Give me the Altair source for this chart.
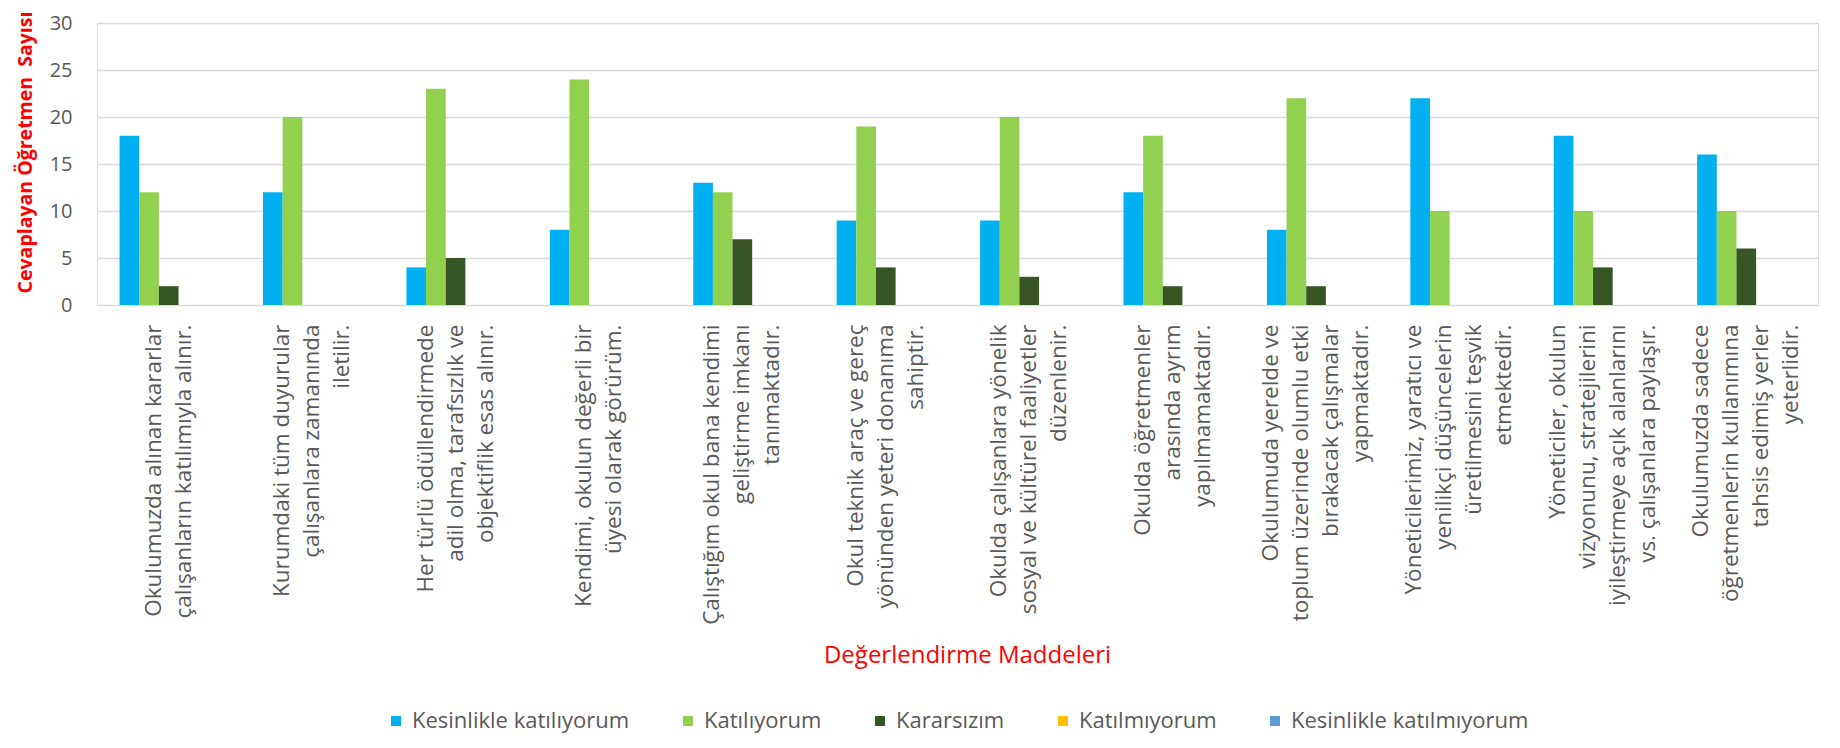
import altair as alt
import pandas as pd

# ---- data -------------------------------------------------------------
series = ["Kesinlikle katılıyorum", "Katılıyorum", "Kararsızım",
          "Katılmıyorum", "Kesinlikle katılmıyorum"]
colors = ["#00B0F0", "#92D050", "#375623", "#FFC000", "#5B9BD5"]

label_lines = [
    ["Okulumuzda alınan kararlar", "çalışanların katılımıyla alınır."],
    ["Kurumdaki tüm duyurular", "çalışanlara zamanında", "iletilir."],
    ["Her türlü ödüllendirmede", "adil olma, tarafsızlık ve", "objektiflik esas alınır."],
    ["Kendimi, okulun değerli bir", "üyesi olarak görürüm."],
    ["Çalıştığım okul bana kendimi", "geliştirme imkanı", "tanımaktadır."],
    ["Okul teknik araç ve gereç", "yönünden yeteri donanıma", "sahiptir."],
    ["Okulda çalışanlara yönelik", "sosyal ve kültürel faaliyetler", "düzenlenir."],
    ["Okulda öğretmenler", "arasında ayrım", "yapılmamaktadır."],
    ["Okulumuda yerelde ve", "toplum üzerinde olumlu etki", "bırakacak çalışmalar", "yapmaktadır."],
    ["Yöneticilerimiz, yaratıcı ve", "yenilikçi düşüncelerin", "üretilmesini teşvik", "etmektedir."],
    ["Yöneticiler, okulun", "vizyonunu, stratejilerini", "iyileştirmeye açık alanlarını", "vs. çalışanlara paylaşır."],
    ["Okulumuzda sadece", "öğretmenlerin kullanımına", "tahsis edimiş yerler", "yeterlidir."],
]

kesinlikle_katiliyorum = [18, 12, 4, 8, 13, 9, 9, 12, 8, 22, 18, 16]
katiliyorum = [12, 20, 23, 24, 12, 19, 20, 18, 22, 10, 10, 10]
kararsizim = [2, 0, 5, 0, 7, 4, 3, 2, 2, 0, 4, 6]
katilmiyorum = [0, 0, 0, 0, 0, 0, 0, 0, 0, 0, 0, 0]
kesinlikle_katilmiyorum = [0, 0, 0, 0, 0, 0, 0, 0, 0, 0, 0, 0]

y_ticks = [0, 5, 10, 15, 20, 25, 30]

# ---- centre the lines of each rotated label (Excel style) -------------
LABEL_SIZE = 22.5
LINE_H = 30
ADV = {' ': 532, '\u00a0': 532, '.': 545, ',': 502,
       'a': 1139, 'b': 1255, 'c': 975, 'd': 1255, 'e': 1149, 'f': 694,
       'g': 1122, 'h': 1257, 'i': 518, 'j': 518, 'k': 1075, 'l': 518,
       'm': 1905, 'n': 1257, 'o': 1237, 'p': 1255, 'q': 1255, 'r': 836,
       's': 977, 't': 723, 'u': 1257, 'v': 1026, 'w': 1593, 'x': 1073,
       'y': 1028, 'z': 977, 'ı': 518, 'ğ': 1122, 'ş': 977, 'ç': 975,
       'ö': 1237, 'ü': 1257, 'O': 1599, 'K': 1155, 'H': 1511, 'Ç': 1296,
       'Y': 1087}


def text_width(s):
    return sum(ADV.get(ch, 1100) for ch in s) / 2048 * LABEL_SIZE


space_w = 532 / 2048 * LABEL_SIZE
keys = []
for lines in label_lines:
    widths = [text_width(l) for l in lines]
    mx = max(widths)
    padded = [l + "\u00a0" * int(round((mx - w) / 2 / space_w)) for l, w in zip(lines, widths)]
    keys.append("|".join(padded))

values_by_series = [kesinlikle_katiliyorum, katiliyorum, kararsizim,
                    katilmiyorum, kesinlikle_katilmiyorum]
rows = []
for s, vals in zip(series, values_by_series):
    for k, v in zip(keys, vals):
        rows.append({"madde": k, "cevap": s, "sayi": v})
df = pd.DataFrame(rows)

FONT = "Open Sans"
GREY = "#595959"

# shift each multi-line label so that its block of lines is centred on the category
n_lines = "length(split(datum.value, '|'))"
label_offset = {
    "condition": [
        {"test": f"{n_lines} == 4", "value": -1.5 * LINE_H},
        {"test": f"{n_lines} == 3", "value": -1.0 * LINE_H},
    ],
    "value": -0.5 * LINE_H,
}

chart = alt.Chart(df).mark_bar().encode(
    x=alt.X(
        "madde:N", sort=keys,
        scale=alt.Scale(paddingInner=0.315, paddingOuter=0.1575),
        axis=alt.Axis(
            title="Değerlendirme Maddeleri", titleColor="#FF0000",
            titleFont=FONT, titleFontSize=24, titleFontWeight="normal",
            titleX=870, titleY=350, titleBaseline="middle",
            labelExpr="split(datum.label, '|')",
            labelAngle=270, labelAlign="right", labelBaseline="middle",
            labelPadding=19, labelOffset=label_offset,
            labelFont=FONT, labelFontSize=LABEL_SIZE,
            labelColor=GREY, labelLineHeight=LINE_H, labelLimit=800,
            labelOverlap=False, ticks=False, domain=False, grid=False,
        ),
    ),
    xOffset=alt.XOffset("cevap:N", sort=series, scale=alt.Scale(domain=series)),
    y=alt.Y(
        "sayi:Q",
        scale=alt.Scale(domain=[0, 30], nice=False),
        axis=alt.Axis(
            values=y_ticks,
            title="Cevaplayan Öğretmen \u00a0Sayısı", titleColor="#FF0000",
            titleFont=FONT, titleFontSize=19.5, titleFontWeight="bold",
            titleX=-62, titleY=129,
            labelFont=FONT, labelFontSize=20, labelColor=GREY,
            labelPadding=25, ticks=False, domain=False,
            grid=True, gridColor="#D9D9D9", gridWidth=1.5,
        ),
    ),
    color=alt.Color(
        "cevap:N",
        scale=alt.Scale(domain=series, range=colors),
        legend=alt.Legend(
            title=None, orient="none", legendX=288, legendY=687,
            direction="horizontal", columns=5, symbolType="square",
            symbolSize=100, symbolStrokeWidth=0, labelFont=FONT,
            labelFontSize=22, labelColor=GREY, labelOffset=5,
            columnPadding=47, labelLimit=400,
        ),
    ),
).properties(
    width=1721, height=282,
    autosize=alt.AutoSizeParams(type="none"),
    padding={"left": 89, "top": 15, "right": 10, "bottom": 431},
).configure_view(stroke=None).configure(background="white")

chart.save("out.html", embed_options={"renderer": "svg", "actions": False})
